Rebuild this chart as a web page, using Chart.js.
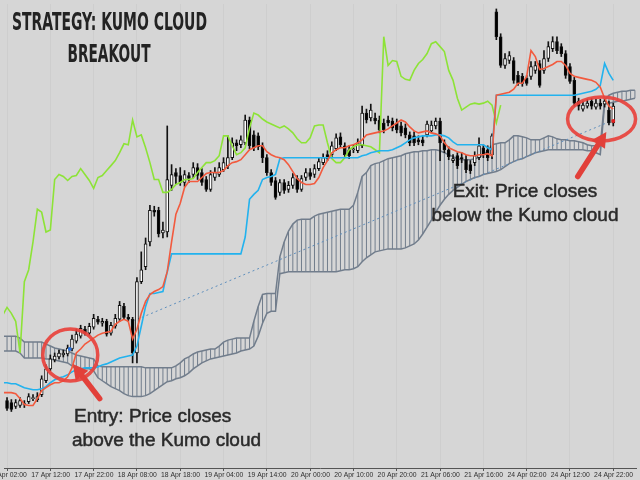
<!DOCTYPE html>
<html>
<head>
<meta charset="utf-8">
<style>
html,body{margin:0;padding:0;background:#d6d6d6;}
#wrap{width:640px;height:480px;position:relative;overflow:hidden;}
canvas{display:block;}
</style>
<script src="https://cdn.jsdelivr.net/npm/chart.js@4.4.1/dist/chart.umd.min.js"></script>
</head>
<body>
<div id="wrap"><canvas id="c" width="640" height="480"></canvas></div>
<script>
// ---------- DATA (bar numbers are hourly bars, values in price points) ----------
const tickBars = [0,10,20,30,40,50,60,70,80,90,100,110,120,130,140];
const tickLabels = ['17 Apr 02:00','17 Apr 12:00','17 Apr 22:00','18 Apr 08:00','18 Apr 18:00',
  '19 Apr 04:00','19 Apr 14:00','20 Apr 00:00','20 Apr 10:00','20 Apr 20:00',
  '21 Apr 06:00','21 Apr 16:00','24 Apr 02:00','24 Apr 12:00','24 Apr 22:00'];

// candles: bars 5..145
const candleFirstBar = 5;
const openV = [
  80,78,74,75,76,79,82,81,86,100,
  112,121,124,126,127,132,140,145,152,148,
  154,162,158,160,148,155,162,175,164,162,
  128,200,215,240,272,272,249,250,297,310,
  307,300,307,308,315,310,303,293,305,308,
  313,317,325,340,338,340,363,348,347,337,
  325,310,302,290,300,293,297,304,293,305,
  310,308,314,320,328,328,334,346,337,333,
  333,332,337,370,365,365,363,360,363,362,
  360,357,355,348,347,343,343,348,352,357,
  362,340,333,322,327,325,323,318,320,325,
  335,333,328,472,447,418,423,423,408,407,
  405,407,413,420,413,425,435,442,437,430,
  417,403,382,374,377,382,376,380,379,373,
  360];
const highV = [
  83,81,81,83,80,87,86,88,105,116,
  126,128,131,131,136,146,152,156,155,158,
  167,165,163,162,159,167,180,178,167,164,
  204,230,244,277,276,275,260,357,318,314,
  315,312,310,320,319,314,306,312,315,320,
  325,347,345,343,347,368,366,352,350,340,
  328,313,305,303,303,301,309,307,307,314,
  314,318,325,329,332,341,349,350,340,337,
  338,344,377,374,379,370,367,364,367,365,
  364,361,359,351,351,347,347,362,362,365,
  365,343,336,328,330,330,327,322,331,345,
  338,337,349,475,450,430,432,426,412,410,
  408,422,422,423,433,442,447,447,440,433,
  420,406,385,382,384,385,384,384,385,382,
  380];
const lowV = [
  70,69,72,73,73,77,80,79,84,98,
  110,119,122,124,125,130,138,143,146,146,
  152,157,155,145,146,153,160,162,160,118,
  118,198,212,236,266,245,244,245,292,298,
  297,296,300,305,303,297,291,291,302,306,
  311,314,323,332,335,338,334,332,333,320,
  307,297,283,287,289,290,294,290,291,302,
  303,305,312,318,322,326,332,335,325,324,
  330,330,335,360,362,359,350,350,357,352,
  350,347,345,337,337,338,337,346,350,354,
  322,330,323,320,314,320,310,309,317,323,
  325,322,324,444,416,415,420,400,398,397,
  398,404,410,396,410,422,432,430,427,405,
  400,377,373,372,375,374,374,374,376,358,
  357];
const closeV = [
  72,71,78,80,77,84,83,84,102,112,
  122,125,128,128,133,142,147,153,148,155,
  163,159,160,147,156,163,176,164,162,128,
  200,212,238,272,270,248,252,303,308,306,
  300,308,304,315,307,300,293,308,310,315,
  320,325,340,337,343,363,337,335,336,325,
  310,300,285,300,292,297,305,293,304,310,
  306,314,321,325,324,337,345,338,328,327,
  334,340,370,363,373,362,353,353,360,355,
  353,350,348,340,340,341,340,359,358,362,
  340,333,326,324,317,324,313,312,327,337,
  328,325,347,447,418,425,428,403,400,400,
  400,417,418,398,425,437,442,433,430,408,
  402,380,377,378,380,377,380,377,382,360,
  377];

// Ichimoku lines: tenkan / kijun start at bar 4
const lineFirstBar = 4;
const tenkan = [
  88,88,88,87,82,76,75,75,82,90,
  93,96,98,98,100,104,113,128,132,137,
  140,143,146,148,149,150,157,160,162,160,
  142,152,168,180,187,190,192,195,210,240,
  268,279,295,301,301,301,305,309,310,310,
  310,312,317,320,321,323,328,333,335,337,
  337,331,328,326,325,323,318,311,304,300,
  298,298,299,305,315,322,330,333,335,335,
  337,338,340,343,348,349,350,351,352,354,
  357,360,363,361,356,352,350,351,352,350,
  349,347,340,335,333,331,330,328,327,327,
  328,328,329,327,388,389,390,391,394,400,
  400,407,433,427,414,415,417,419,422,422,
  418,410,407,406,405,404,403,401,396,385,
  377,374];
const kijun = [
  98,98,97,97,95,93,92,91,91,92,
  94,98,101,103,104,106,109,111,112,113,
  113,113,114,116,117,119,121,123,124,125,
  126,135,155,175,188,188,189,190,210,228,
  228,228,228,228,228,228,228,228,228,228,
  228,228,228,228,228,228,245,283,288,292,
  303,305,306,308,324,325,325,325,325,325,
  325,325,325,325,325,325,325,325,325,325,
  325,325,325,327,328,330,331,332,332,332,
  333,335,337,340,343,345,346,347,347,347,
  348,348,347,345,341,338,338,338,338,338,
  338,338,335,333,388,388,388,388,388,388,
  388,388,388,388,388,388,388,388,388,388,
  388,388,388,389,390,391,392,394,398,420,
  410,403];
// chikou span (lagging close) bars 4..119
const chikou = [
  166,174,168,160,128,200,212,240,273,270,
  250,252,303,308,306,302,306,307,314,308,
  302,294,305,307,312,317,322,330,339,338,
  363,346,348,335,320,303,303,290,290,293,
  298,300,303,303,304,310,315,320,320,322,
  327,347,347,337,328,330,335,355,370,368,
  364,361,359,357,355,357,354,350,344,340,
  340,345,357,358,358,340,324,320,320,325,
  333,336,338,338,337,336,333,330,447,418,
  423,422,407,404,403,413,420,424,430,440,
  442,437,432,413,403,385,373,376,379,380,
  379,380,382,378,360,378];
// Kumo cloud spans bars 4..150
const senkouA = [
  145,145,145,145,143,139,139,139,139,139,
  137,135,133,132,131,130,128,126,125,124,
  123,122,115,114,114,114,114,114,114,114,
  114,114,114,113,113,113,113,113,113,113,
  115,118,122,124,127,129,130,131,132,132,
  135,139,141,142,143,143,143,143,160,175,
  187,188,188,188,225,240,251,258,262,263,
  263,263,266,268,269,270,271,272,273,273,
  273,277,290,306,310,317,319,320,322,324,
  325,326,327,329,330,331,331,332,332,333,
  333,332,330,328,326,324,323,323,323,324,
  325,328,332,338,339,340,340,343,347,347,
  346,345,343,343,343,345,347,346,344,343,
  343,342,342,341,340,338,337,337,337,383,
  388,390,391,392,392,393,393];
const senkouB = [
  130,130,130,130,128,123,123,123,123,123,
  122,122,121,120,119,118,115,112,112,112,
  112,110,103,100,97,94,92,90,87,85,
  84,84,84,85,87,90,93,96,99,100,
  102,103,105,108,112,115,118,120,122,123,
  124,125,126,127,128,130,131,132,135,145,
  158,168,170,170,208,209,210,210,210,210,
  210,210,210,210,210,210,210,210,211,212,
  212,213,215,220,224,227,230,231,232,233,
  233,233,233,234,236,238,242,248,255,262,
  270,277,283,288,292,295,298,301,303,305,
  306,308,309,310,311,313,316,319,321,323,
  324,326,328,330,331,332,333,333,333,333,
  333,333,333,333,333,332,332,330,328,379,
  380,381,382,382,383,384,385];
// dotted trend line (two anchor points)
const trendBars = [34, 144];
const trendValues = [160, 361];
// entry / exit signal dots
const signalBars = [19.5, 145];
const signalValues = [132, 362];

// ---------- ANNOTATIONS ----------
const highlights = [
  {bar: 19.6, value: 126, rx: 27.5, ry: 26},
  {bar: 142.3, value: 364, rx: 34, ry: 22}
];
const pointers = [
  {fromBar: 26.4, fromValue: 82, toBar: 20.2, toValue: 117},
  {fromBar: 136.8, fromValue: 306, toBar: 143.4, toValue: 351}
];
const notes = [
  {text: 'Entry: Price closes', x: 74, y: 422, align: 'left'},
  {text: 'above the Kumo cloud', x: 72, y: 446, align: 'left'},
  {text: 'Exit: Price closes', x: 525, y: 197, align: 'center'},
  {text: 'below the Kumo cloud', x: 525, y: 221, align: 'center'}
];
const titleLines = [
  {text: 'STRATEGY: KUMO CLOUD', cx: 109.5, y: 30, width: 195},
  {text: 'BREAKOUT', cx: 109, y: 62, width: 83}
];

// ---------- BUILD ----------
const pts = (arr, first) => arr.map((v, k) => ({x: first + k, y: v}));
const bodies = openV.map((o, k) => ({x: candleFirstBar + k, y: [o, closeV[k]]}));
const wicks = lowV.map((l, k) => ({x: candleFirstBar + k, y: [l, highV[k]]}));
const bodyFill = openV.map((o, k) => closeV[k] >= o ? '#ffffff' : '#000000');
const cloud = senkouA.map((a, k) => ({x: lineFirstBar + k, y: [senkouB[k], a]}));
const cloudColor = '#717d8c';

function drawArrow(ctx, x1, y1, x2, y2) {
  const ang = Math.atan2(y2 - y1, x2 - x1);
  const head = 15, hw = 8;
  const bx = x2 - head * Math.cos(ang), by = y2 - head * Math.sin(ang);
  ctx.strokeStyle = '#e2403a';
  ctx.fillStyle = '#e2403a';
  ctx.lineWidth = 5.5;
  ctx.lineCap = 'round';
  ctx.beginPath(); ctx.moveTo(x1, y1); ctx.lineTo(bx, by); ctx.stroke();
  ctx.beginPath();
  ctx.moveTo(x2, y2);
  ctx.lineTo(bx + hw * Math.sin(ang), by - hw * Math.cos(ang));
  ctx.lineTo(bx - hw * Math.sin(ang), by + hw * Math.cos(ang));
  ctx.closePath(); ctx.fill();
}

const overlay = {
  id: 'overlay',
  beforeDraw(chart) {
    const ctx = chart.ctx;
    ctx.save(); ctx.fillStyle = '#d6d6d6'; ctx.fillRect(0, 0, chart.width, chart.height); ctx.restore();
  },
  afterDatasetsDraw(chart) {
    const {ctx, scales: {x, y}} = chart;
    ctx.save();
    ctx.strokeStyle = 'rgba(232,66,60,0.92)';
    ctx.lineWidth = 3.5;
    highlights.forEach(h => {
      ctx.beginPath();
      ctx.ellipse(x.getPixelForValue(h.bar), y.getPixelForValue(h.value), h.rx, h.ry, 0, 0, Math.PI * 2);
      ctx.stroke();
    });
    pointers.forEach(p => drawArrow(ctx,
      x.getPixelForValue(p.fromBar), y.getPixelForValue(p.fromValue),
      x.getPixelForValue(p.toBar), y.getPixelForValue(p.toValue)));
    ctx.restore();
  },
  afterDraw(chart) {
    const ctx = chart.ctx;
    ctx.save();
    ctx.fillStyle = '#2a2a2a';
    ctx.strokeStyle = '#2a2a2a';
    ctx.lineWidth = 0.5;
    ctx.textBaseline = 'alphabetic';
    ctx.font = '19px "Liberation Sans", Arial, sans-serif';
    notes.forEach(n => { ctx.textAlign = n.align; ctx.fillText(n.text, n.x, n.y); ctx.strokeText(n.text, n.x, n.y); });
    ctx.fillStyle = '#232323';
    ctx.textAlign = 'left';
    ctx.font = 'bold 25px "Liberation Sans Narrow", "DejaVu Sans Condensed", "Liberation Sans", sans-serif';
    titleLines.forEach(t => {
      const w = ctx.measureText(t.text).width;
      const sx = t.width / w;
      ctx.save();
      ctx.translate(t.cx - t.width / 2, t.y);
      ctx.scale(sx, 1);
      ctx.fillText(t.text, 0, 0);
      ctx.restore();
    });
    ctx.restore();
  }
};

new Chart(document.getElementById('c'), {
  type: 'bar',
  data: {
    datasets: [
      {type: 'bar', label: 'Kumo', data: cloud, backgroundColor: cloudColor, barThickness: 1, inflateAmount: 0, grouped: false, order: 10},
      {type: 'line', label: 'Senkou A', data: pts(senkouA, lineFirstBar), borderColor: cloudColor, borderWidth: 1.5, pointRadius: 0, order: 9},
      {type: 'line', label: 'Senkou B', data: pts(senkouB, lineFirstBar), borderColor: cloudColor, borderWidth: 1.5, pointRadius: 0, order: 9},
      {type: 'line', label: 'Trend', data: trendBars.map((b, k) => ({x: b, y: trendValues[k]})), borderColor: '#5f8fbd', borderWidth: 1, borderDash: [2, 3], pointRadius: 0, order: 8},
      {type: 'bar', label: 'Wicks', data: wicks, backgroundColor: '#111111', barThickness: 1, grouped: false, order: 6},
      {type: 'bar', label: 'Bodies', data: bodies, backgroundColor: bodyFill, borderColor: '#111111', borderWidth: 1, borderSkipped: false, barThickness: 3, grouped: false, order: 5},
      {type: 'line', label: 'Chikou', data: pts(chikou, lineFirstBar), borderColor: '#8de337', borderWidth: 1.6, pointRadius: 0, order: 3},
      {type: 'line', label: 'Kijun', data: pts(kijun, lineFirstBar), borderColor: '#22b2ee', borderWidth: 1.6, pointRadius: 0, order: 2},
      {type: 'line', label: 'Tenkan', data: pts(tenkan, lineFirstBar), borderColor: '#f25a3e', borderWidth: 1.6, pointRadius: 0, order: 1},
      {type: 'scatter', label: 'Signals', data: signalBars.map((b, k) => ({x: b, y: signalValues[k]})), backgroundColor: ['#2a6fd6', '#e02020'], borderWidth: 0, pointRadius: 2, order: 0}
    ]
  },
  options: {
    responsive: false,
    animation: false,
    events: [],
    layout: {padding: 0},
    plugins: {legend: {display: false}, tooltip: {enabled: false}, title: {display: false}},
    scales: {
      x: {
        type: 'linear', position: 'bottom', min: 4.3, max: 150.25, offset: false,
        afterBuildTicks: s => { s.ticks = tickBars.map(v => ({value: v})); },
        afterFit: s => { s.height = 12; s.paddingLeft = 0; s.paddingRight = 0; },
        ticks: {
          autoSkip: false, maxRotation: 0, minRotation: 0, align: 'start', padding: 0, labelOffset: 2.5,
          color: '#2e2e2e', font: {family: '"Liberation Sans", Arial, sans-serif', size: 6.8},
          callback: v => { const k = tickBars.indexOf(v); return k >= 0 ? tickLabels[k] : ''; }
        },
        grid: {color: 'rgba(0,0,0,0.035)', tickColor: '#555555', tickLength: 3, drawTicks: true},
        border: {display: true, color: '#555555', width: 1}
      },
      y: {display: false, min: 12, max: 480}
    }
  },
  plugins: [overlay]
});
</script>
</body>
</html>
